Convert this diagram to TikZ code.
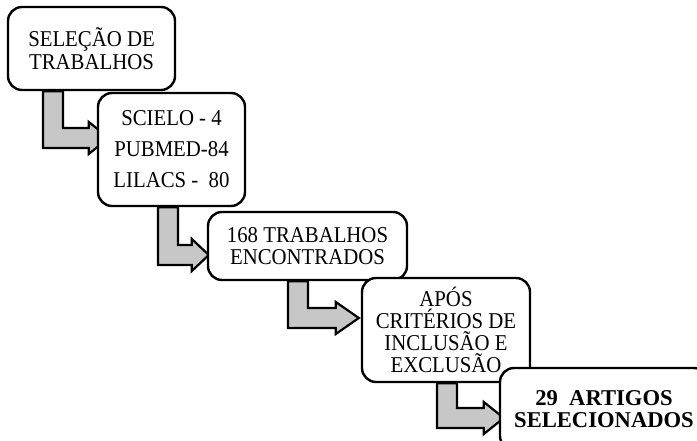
\documentclass[tikz,border=0pt]{standalone}
\usepackage{fontspec}
\setmainfont{Liberation Serif}[FakeStretch=0.92]
\newfontfamily\widebold{Liberation Serif}
\usepackage{tikz}
\usetikzlibrary{calc,backgrounds}

% #1 upper box, #2 lower box, #3 stem x, #4 bar y, #5 tip offset, #6 head length
\newcommand\bentarrow[6]{%
  \draw[bentarr] let \p1=(#1.south), \p2=(#2.west), \p3=(#3,#4) in
    (\x3,\y1) -- (\x3+20pt,\y1) -- (\x3+20pt,\y3+10pt)
    -- (\x2+#5pt-#6pt,\y3+10pt) -- (\x2+#5pt-#6pt,\y3+16pt)
    -- (\x2+#5pt,\y3)
    -- (\x2+#5pt-#6pt,\y3-16pt) -- (\x2+#5pt-#6pt,\y3-10pt)
    -- (\x3,\y3-10pt) -- cycle;}

\begin{document}
\begin{tikzpicture}[x=1pt,y=-1pt,
  box/.style={draw,fill=white,line width=2.4pt,rounded corners=14pt,
    inner sep=0pt,align=center,font=\fontsize{22.6}{23}\selectfont},
  bentarr/.style={draw,fill=black!22,line width=2.2pt,line join=miter}]
  \useasboundingbox (0,0) rectangle (697,441);
  \clip (0,0) rectangle (697,441);
  \node[box,minimum width=167pt,minimum height=83pt] (sel) at (91.5,48.5) {SELEÇÃO DE\\TRABALHOS};
  \node[box,minimum width=147pt,minimum height=113pt,font=\fontsize{22.6}{31}\selectfont] (bases) at (171.5,149.5) {SCIELO - 4\\PUBMED-84\\LILACS -\ \ 80};
  \node[box,minimum width=199pt,minimum height=68pt,font=\fontsize{22.6}{22}\selectfont] (found) at (307.5,246) {168 TRABALHOS\\ENCONTRADOS};
  \node[box,minimum width=168pt,minimum height=104pt,font=\fontsize{22.6}{22}\selectfont] (crit) at (446,330) {APÓS\\CRITÉRIOS DE\\INCLUSÃO E\\EXCLUSÃO};
  \node[box,minimum width=208pt,minimum height=82pt,font=\widebold\fontsize{22.6}{21.7}\selectfont\bfseries] (final) at (604,409) {29\ \ ARTIGOS\\SELECIONADOS};
  \begin{pgfonlayer}{background}
    \bentarrow{sel}{bases}{43}{138}{12}{20}
    \bentarrow{bases}{found}{158}{255}{2}{17}
    \bentarrow{found}{crit}{288}{318}{-2}{23}
    \bentarrow{crit}{final}{437}{418}{5}{20}
  \end{pgfonlayer}
\end{tikzpicture}
\end{document}
